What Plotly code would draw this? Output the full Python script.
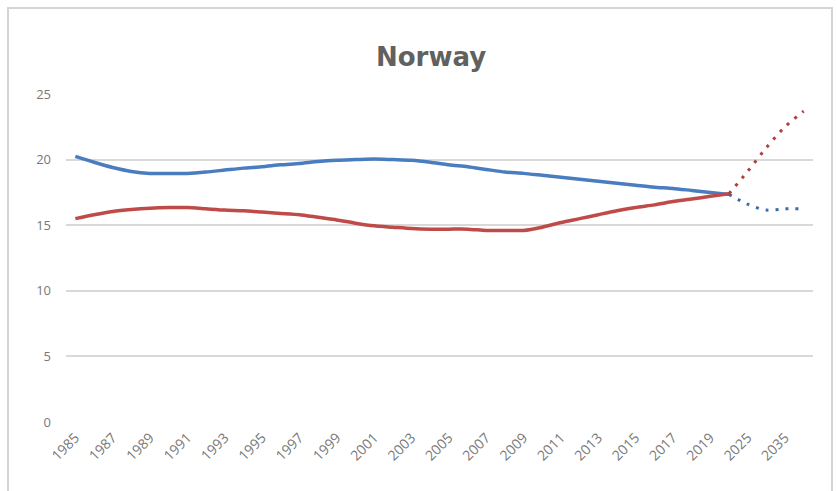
import plotly.graph_objects as go

years = [str(y) for y in range(1985, 2021)]
proj_years = ["2020", "2025", "2030", "2035", "2040"]
categories = years + proj_years[1:]
tick_labels = [str(y) for y in range(1985, 2020, 2)] + ["2025", "2035"]

blue_hist = [20.25, 19.8, 19.4, 19.1, 18.95, 18.95, 18.95, 19.05, 19.2, 19.35,
             19.45, 19.6, 19.7, 19.85, 19.95, 20.0, 20.05, 20.0, 19.95, 19.8,
             19.6, 19.45, 19.25, 19.05, 18.95, 18.8, 18.65, 18.5, 18.35, 18.2,
             18.05, 17.9, 17.8, 17.65, 17.5, 17.35]
red_hist = [15.5, 15.8, 16.05, 16.2, 16.3, 16.35, 16.35, 16.25, 16.15, 16.1,
            16.0, 15.9, 15.8, 15.6, 15.4, 15.15, 14.95, 14.85, 14.75, 14.7,
            14.7, 14.7, 14.6, 14.6, 14.6, 14.85, 15.2, 15.5, 15.8, 16.1,
            16.35, 16.55, 16.8, 17.0, 17.2, 17.4]
blue_proj = [17.35, 16.6, 16.15, 16.25, 16.25]
red_proj = [17.4, 19.1, 20.9, 22.5, 23.7]

BLUE = "#4a7cc0"
RED = "#be4b48"
TITLE_GRAY = "#616161"
TICK_GRAY = "#787878"

fig = go.Figure()
fig.add_trace(go.Scatter(x=years, y=blue_hist, mode="lines",
                         line=dict(color=BLUE, width=3.5, shape="spline", smoothing=0.6),
                         showlegend=False, hoverinfo="skip"))
fig.add_trace(go.Scatter(x=years, y=red_hist, mode="lines",
                         line=dict(color=RED, width=3.5, shape="spline", smoothing=0.6),
                         showlegend=False, hoverinfo="skip"))
fig.add_trace(go.Scatter(x=proj_years, y=blue_proj, mode="lines",
                         line=dict(color="#3f6aa8", width=3, dash="3px,7px",
                                   shape="spline", smoothing=0.8),
                         showlegend=False, hoverinfo="skip"))
fig.add_trace(go.Scatter(x=proj_years, y=red_proj, mode="lines",
                         line=dict(color="#b0403d", width=3, dash="3px,7px",
                                   shape="spline", smoothing=0.8),
                         showlegend=False, hoverinfo="skip"))

fig.update_layout(
    width=837, height=491,
    margin=dict(l=66, r=24, t=94, b=69),
    paper_bgcolor="white", plot_bgcolor="white",
    title=dict(text="<b>Norway</b>", x=0.515, xref="container", xanchor="center",
               y=0.884, yref="container", yanchor="middle",
               font=dict(family="DejaVu Sans", size=26, color=TITLE_GRAY)),
    font=dict(family="Open Sans", color=TICK_GRAY),
    xaxis=dict(type="category", categoryorder="array", categoryarray=categories,
               range=[-0.5, len(categories) - 0.5],
               tickmode="array", tickvals=tick_labels, ticktext=tick_labels,
               tickangle=-45, tickfont=dict(size=14, color=TICK_GRAY),
               ticklabelstandoff=4,
               showgrid=False, showline=False, zeroline=False, ticks=""),
    yaxis=dict(range=[0, 25], tickvals=[0, 5, 10, 15, 20, 25],
               showgrid=True, gridcolor="#d9d9d9", gridwidth=1.5,
               zeroline=False, showline=False, ticks="",
               tickfont=dict(size=13, color=TICK_GRAY), ticklabelstandoff=14),
    shapes=[dict(type="rect", xref="paper", yref="paper",
                 x0=-0.0776, x1=1.0254, y0=-0.23, y1=1.262,
                 line=dict(color="#d4d4d4", width=2), layer="below")],
)

fig.write_html("out.html")
